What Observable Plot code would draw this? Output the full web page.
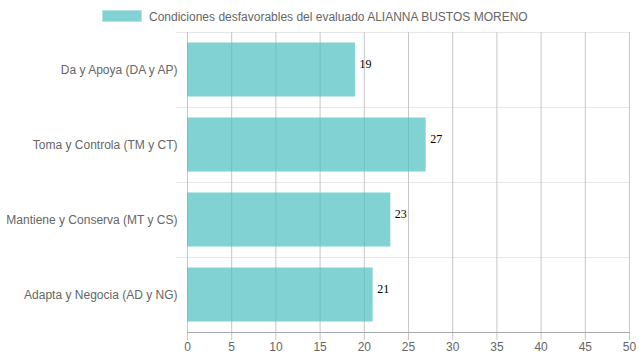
<!DOCTYPE html>
<html>
<head>
<meta charset="utf-8">
<script src="https://cdn.jsdelivr.net/npm/d3@7"></script>
<script src="https://cdn.jsdelivr.net/npm/@observablehq/plot@0.6"></script>
<style>
  html, body { margin: 0; padding: 0; background: #fff; }
  body { width: 639px; height: 360px; overflow: hidden; font-family: "Liberation Sans", Arial, sans-serif; }
  #legend { position: relative; height: 28px; font-size: 12px; color: #666; }
  #legend .box { position: absolute; left: 102px; top: 10px; width: 40px; height: 12px; box-sizing: border-box;
    background: rgba(75,192,192,0.7); border: 1px solid #b8e6e6; }
  #legend .lab { position: absolute; left: 149px; top: 9.5px; line-height: 14px; white-space: nowrap; }
  #chart svg { display: block; }
</style>
</head>
<body>
<div id="legend"><div class="box"></div><div class="lab"></div></div>
<div id="chart"></div>
<script>
const legendLabel = "Condiciones desfavorables del evaluado ALIANNA BUSTOS MORENO";
const categories = [
  "Da y Apoya (DA y AP)",
  "Toma y Controla (TM y CT)",
  "Mantiene y Conserva (MT y CS)",
  "Adapta y Negocia (AD y NG)"
];
const values = [19, 27, 23, 21];
const xTicks = [0, 5, 10, 15, 20, 25, 30, 35, 40, 45, 50];

const data = categories.map((c, i) => ({category: c, value: values[i]}));
document.querySelector("#legend .lab").textContent = legendLabel;

const barColor = "rgba(75,192,192,0.7)";

const chart = Plot.plot({
  width: 639,
  height: 332,
  marginTop: 4,
  marginBottom: 28,
  marginLeft: 187,
  marginRight: 10,
  style: {fontFamily: "'Liberation Sans', Arial, sans-serif", fontSize: "12px", color: "#666", background: "#fff"},
  x: {domain: [0, 50], ticks: xTicks},
  y: {domain: categories, padding: 0},
  marks: [
    Plot.ruleY(categories, {dy: -37.5, insetLeft: -11, stroke: "#e8e8e8"}),
    Plot.ruleX(xTicks, {stroke: "#c6c6c6", insetBottom: -8}),
    Plot.barX(data, {x: "value", y: "category", fill: barColor, insetTop: 10.5, insetBottom: 10.5}),
    Plot.frame({anchor: "bottom", stroke: "#a8a8a8"}),
    Plot.axisX({ticks: xTicks, tickSize: 0, tickPadding: 10, fill: "#666", label: null}),
    Plot.axisY({tickSize: 0, tickPadding: 10, fill: "#666", label: null}),
    Plot.text(data, {x: "value", y: "category", text: d => String(d.value), dx: 4, dy: -5.5,
      textAnchor: "start", fill: "#000", fontFamily: "'Liberation Serif', 'Times New Roman', serif", fontSize: 12})
  ]
});
document.getElementById("chart").appendChild(chart);
</script>
</body>
</html>
